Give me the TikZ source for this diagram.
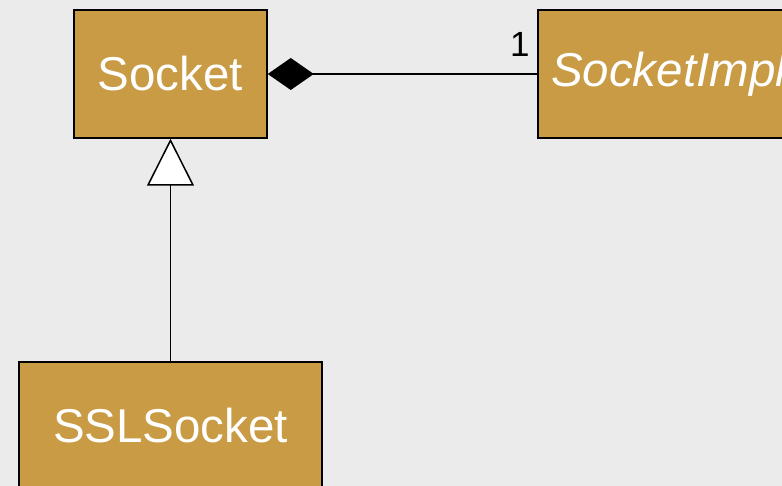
\documentclass[tikz,border=0pt]{standalone}
\usepackage{fontspec}
\setmainfont{Liberation Sans}
\usetikzlibrary{arrows.meta}
\definecolor{classfill}{HTML}{C89B44}
\definecolor{bggray}{HTML}{EBEBEB}
\begin{document}
\begin{tikzpicture}[x=1pt,y=-1pt,
  cls/.style={draw=black,line width=1.5pt,fill=classfill,text=white,
    minimum width=#1,minimum height=128pt,inner sep=0pt,
    font=\fontsize{47.5}{57}\selectfont},
  assoc/.style={line width=1.5pt}]
  \clip (0,0) rectangle (782,486);
  \fill[bggray] (0,0) rectangle (782,486);
  \node[cls=193pt] (socket) at (170.5,74) {Socket};
  \node[cls=261pt] (impl) at (668.5,74) {\itshape SocketImpl};
  \node[cls=303pt] (ssl) at (170.5,426) {SSLSocket};
  % composition
  \draw[assoc,{Diamond[length=46pt,width=32pt]}-] (socket) -- (impl)
    node[pos=1,anchor=south east,inner sep=0pt,xshift=-7pt,yshift=17pt,
      font=\fontsize{35}{40}\selectfont] (mult) {1};
  % inheritance
  \draw[assoc,-{Triangle[open,length=47pt,width=47pt,fill=white]}] (ssl) -- (socket);
\end{tikzpicture}
\end{document}
